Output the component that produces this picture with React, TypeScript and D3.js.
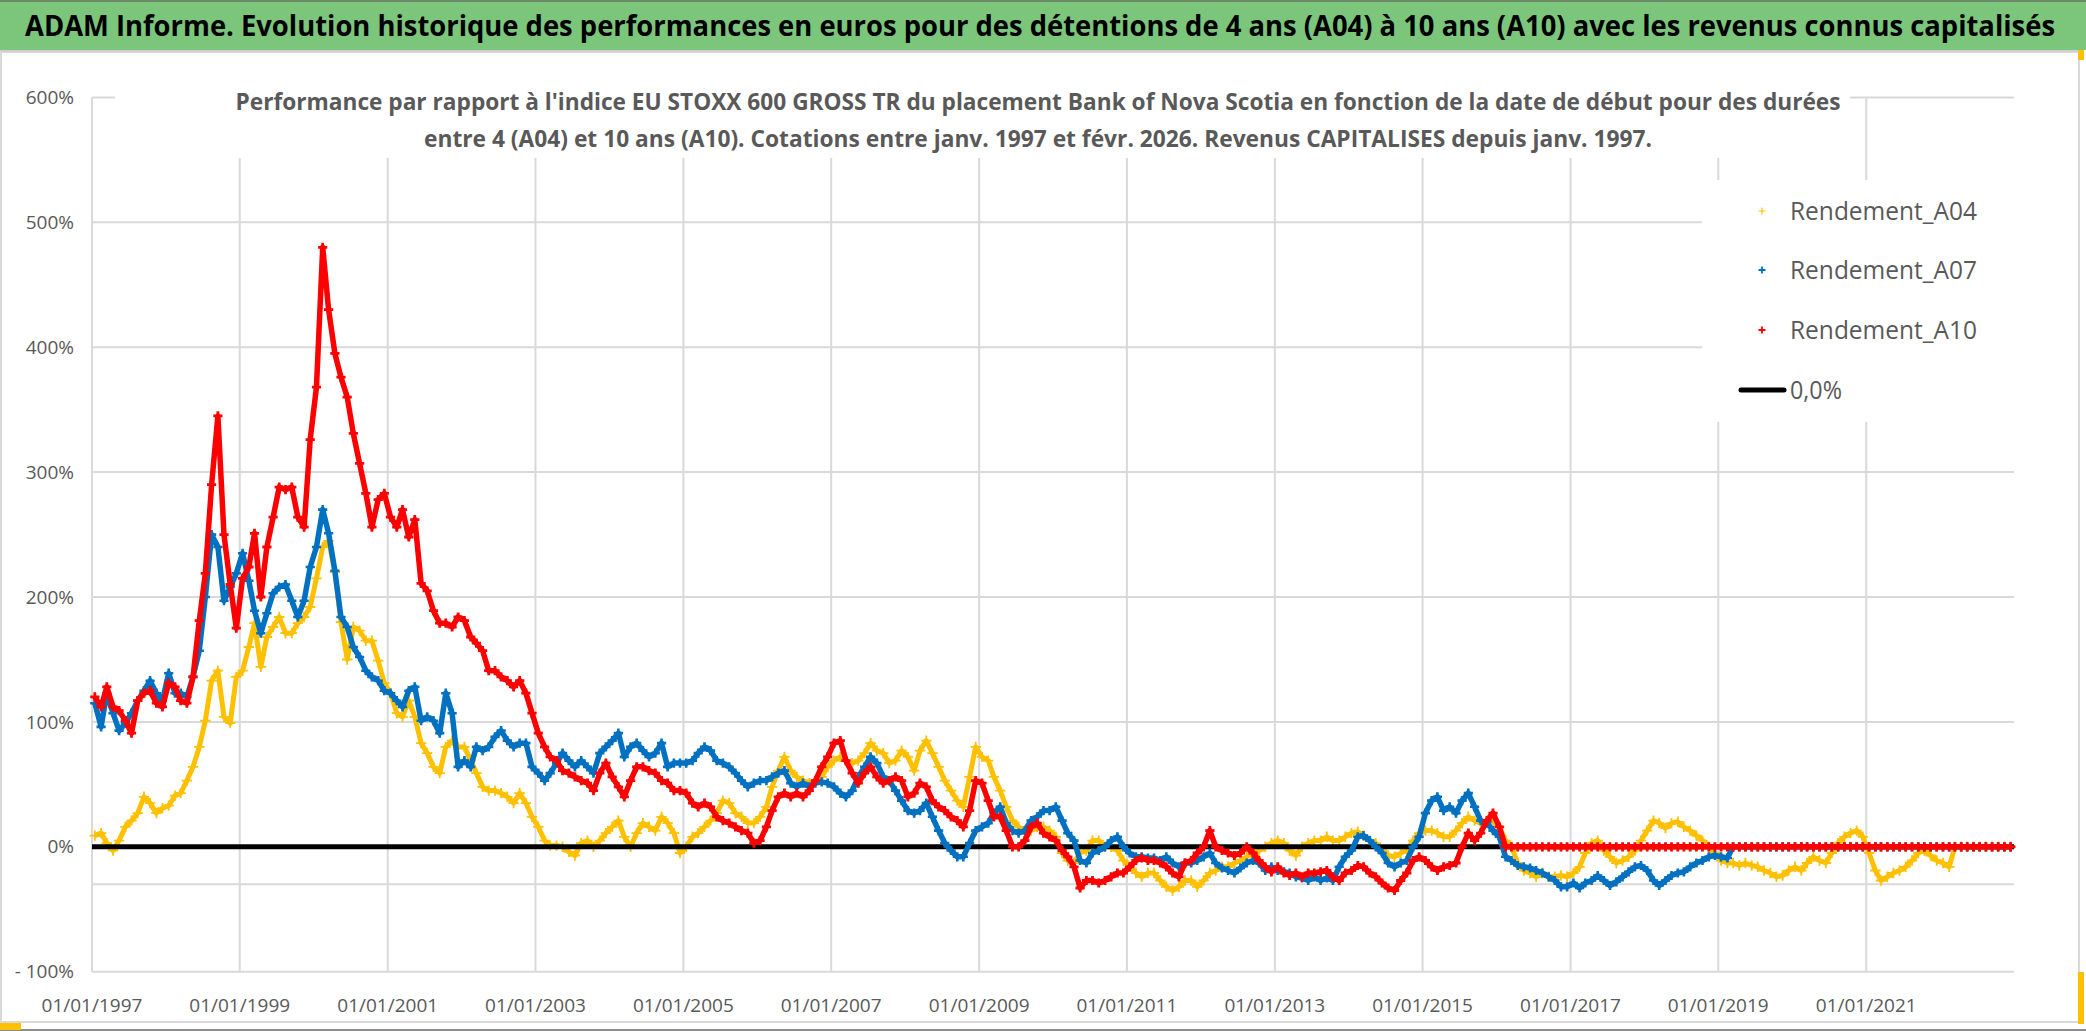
import React from "react";
import * as d3 from "d3";

// ---------- DATA (monthly start dates from January 1997, values in %) ----------
const START_YEAR = 1997;

const A04: number[] = [
  // 1997
  9, 11, 3, -3, 5, 16, 21, 27, 40, 35, 27, 31,
  // 1998
  33, 41, 43, 53, 64, 80, 101, 133, 141, 104, 99, 136,
  // 1999
  141, 160, 179, 144, 168, 176, 184, 171, 171, 179, 184, 192,
  // 2000
  215, 240, 245, 220, 180, 150, 176, 173, 165, 165, 149, 131,
  // 2001
  123, 107, 104, 117, 104, 83, 75, 64, 59, 80, 85, 80,
  // 2002
  80, 69, 59, 48, 45, 45, 43, 40, 35, 43, 35, 24,
  // 2003
  16, 5, 1, 1, 0, -4, -7, 3, 5, 0, 5, 11,
  // 2004
  16, 21, 8, 0, 11, 19, 16, 13, 24, 19, 11, -5,
  // 2005
  0, 8, 11, 16, 21, 27, 37, 35, 27, 24, 19, 19,
  // 2006
  24, 32, 48, 61, 72, 61, 56, 53, 51, 53, 56, 64,
  // 2007
  69, 72, 69, 67, 69, 75, 83, 77, 75, 67, 69, 77,
  // 2008
  72, 61, 77, 85, 75, 64, 53, 45, 37, 32, 56, 80,
  // 2009
  72, 69, 56, 45, 32, 21, 16, 11, 13, 16, 16, 13,
  // 2010
  8, -5, -11, -13, -5, -3, 5, 5, 0, 0, -3, -11,
  // 2011
  -16, -21, -24, -21, -21, -27, -32, -35, -32, -27, -27, -32,
  // 2012
  -27, -21, -19, -16, -16, -13, -11, -8, -5, -3, 0, 3,
  // 2013
  5, 3, -3, -7, 0, 3, 5, 5, 8, 5, 5, 8,
  // 2014
  11, 12, 9, 5, 3, -3, -7, -8, -5, -3, 5, 11,
  // 2015
  13, 13, 11, 8, 8, 13, 19, 24, 21, 19, 21, 21,
  // 2016
  16, 5, 0, -13, -19, -21, -24, -21, -24, -24, -23, -24,
  // 2017
  -21, -16, -5, 3, 5, -3, -8, -13, -11, -8, -3, 5,
  // 2018
  13, 21, 19, 15, 19, 20, 16, 13, 9, 5, 0, -5,
  // 2019
  -11, -13, -13, -15, -13, -15, -16, -19, -21, -24, -23, -19,
  // 2020
  -16, -19, -13, -8, -11, -13, -5, 3, 8, 11, 13, 8,
  // 2021
  -5, -19, -27, -24, -21, -19, -16, -11, -5, -3, -7, -11,
  // 2022
  -13, -16, 0, 0, 0, 0, 0, 0, 0, 0, 0, 0,
];

const A07: number[] = [
  // 1997
  115, 96, 123, 107, 93, 99, 107, 117, 125, 133, 123, 117,
  // 1998
  139, 123, 123, 120, 136, 157, 200, 250, 240, 197, 208, 219,
  // 1999
  235, 213, 189, 171, 187, 203, 208, 210, 197, 184, 197, 224,
  // 2000
  240, 270, 251, 221, 184, 176, 160, 152, 141, 136, 133, 125,
  // 2001
  123, 117, 112, 125, 128, 101, 104, 101, 91, 123, 107, 64,
  // 2002
  69, 64, 80, 77, 80, 88, 93, 85, 80, 83, 83, 64,
  // 2003
  59, 53, 59, 67, 75, 69, 64, 69, 64, 59, 75, 80,
  // 2004
  85, 91, 72, 80, 83, 77, 72, 75, 83, 64, 67, 67,
  // 2005
  67, 69, 75, 80, 77, 69, 67, 64, 59, 53, 48, 51,
  // 2006
  53, 53, 56, 59, 61, 51, 48, 51, 48, 51, 52, 51,
  // 2007
  48, 43, 40, 45, 56, 64, 72, 67, 56, 53, 45, 37,
  // 2008
  29, 27, 29, 35, 24, 13, 3, -3, -8, -8, 3, 13,
  // 2009
  16, 19, 27, 32, 19, 13, 11, 13, 21, 24, 29, 29,
  // 2010
  32, 21, 11, 5, -11, -13, -5, -3, 0, 5, 8, 0,
  // 2011
  -5, -8, -8, -9, -9, -11, -8, -13, -16, -13, -13, -11,
  // 2012
  -8, -5, -13, -17, -19, -21, -17, -13, -11, -13, -19, -16,
  // 2013
  -19, -20, -21, -24, -25, -27, -24, -27, -25, -27, -16, -8,
  // 2014
  -3, 8, 9, 5, 0, -5, -13, -16, -13, -11, 0, 8,
  // 2015
  27, 37, 40, 29, 32, 27, 37, 43, 32, 21, 19, 13,
  // 2016
  8, -8, -11, -15, -16, -17, -19, -21, -24, -27, -32, -32,
  // 2017
  -29, -33, -29, -27, -23, -27, -31, -28, -24, -20, -16, -15,
  // 2018
  -19, -27, -31, -27, -23, -21, -20, -16, -13, -11, -8, -7,
  // 2019
  -8, -9, 0, 0, 0, 0, 0, 0, 0, 0, 0, 0,
  // 2020
  0, 0, 0, 0, 0, 0, 0, 0, 0, 0, 0, 0,
  // 2021
  0, 0, 0, 0, 0, 0, 0, 0, 0, 0, 0, 0,
  // 2022
  0, 0, 0, 0, 0, 0, 0, 0, 0, 0, 0, 0,
];

const A10: number[] = [
  // 1997
  120, 112, 128, 112, 109, 101, 91, 117, 123, 125, 115, 112,
  // 1998
  131, 128, 117, 115, 136, 181, 219, 290, 345, 250, 210, 175,
  // 1999
  215, 224, 251, 200, 240, 264, 288, 286, 288, 264, 256, 326,
  // 2000
  368, 480, 430, 395, 376, 360, 331, 307, 283, 256, 278, 283,
  // 2001
  264, 256, 270, 248, 262, 211, 205, 189, 179, 179, 176, 184,
  // 2002
  181, 168, 163, 157, 141, 141, 136, 133, 128, 133, 123, 107,
  // 2003
  91, 80, 72, 69, 61, 59, 56, 53, 51, 45, 59, 67,
  // 2004
  56, 48, 40, 53, 64, 64, 61, 59, 53, 51, 45, 45,
  // 2005
  43, 35, 32, 35, 32, 24, 21, 19, 16, 13, 11, 3,
  // 2006
  5, 16, 29, 40, 43, 40, 43, 40, 45, 53, 64, 72,
  // 2007
  83, 85, 69, 59, 51, 59, 64, 56, 51, 53, 56, 53,
  // 2008
  40, 43, 51, 48, 37, 32, 29, 24, 21, 16, 29, 53,
  // 2009
  51, 37, 24, 24, 13, 0, 0, 5, 16, 19, 11, 8,
  // 2010
  5, -3, -8, -16, -33, -27, -27, -29, -27, -24, -21, -21,
  // 2011
  -16, -11, -9, -11, -11, -13, -16, -21, -24, -13, -11, -5,
  // 2012
  0, 13, 0, -3, -5, -7, -5, 0, -5, -11, -16, -20,
  // 2013
  -16, -21, -23, -21, -24, -21, -21, -20, -19, -24, -27, -21,
  // 2014
  -19, -15, -16, -21, -24, -29, -33, -35, -27, -21, -11, -8,
  // 2015
  -11, -16, -19, -16, -15, -13, 0, 11, 5, 11, 21, 27,
  // 2016
  16, 0, 0, 0, 0, 0, 0, 0, 0, 0, 0, 0,
  // 2017
  0, 0, 0, 0, 0, 0, 0, 0, 0, 0, 0, 0,
  // 2018
  0, 0, 0, 0, 0, 0, 0, 0, 0, 0, 0, 0,
  // 2019
  0, 0, 0, 0, 0, 0, 0, 0, 0, 0, 0, 0,
  // 2020
  0, 0, 0, 0, 0, 0, 0, 0, 0, 0, 0, 0,
  // 2021
  0, 0, 0, 0, 0, 0, 0, 0, 0, 0, 0, 0,
  // 2022
  0, 0, 0, 0, 0, 0, 0, 0, 0, 0, 0, 0,
];

const ZERO_LINE: [string, number][] = [
  ["1997-01-01", 0],
  ["2023-01-01", 0],
];

const Y_TICKS = [-100, 0, 100, 200, 300, 400, 500, 600];
const Y_EXTRA_GRID = [-30];
const X_TICK_YEARS = [1997, 1999, 2001, 2003, 2005, 2007, 2009, 2011, 2013, 2015, 2017, 2019, 2021];
const X_DOMAIN = ["1997-01-01", "2023-01-01"];
const Y_DOMAIN = [-100, 600];

const TITLE =
  "ADAM Informe. Evolution historique des performances en euros pour des détentions de 4 ans (A04) à 10 ans (A10) avec les revenus connus capitalisés";
const SUBTITLE = [
  "Performance par rapport à l'indice EU STOXX 600 GROSS TR  du placement Bank of Nova Scotia en fonction de la date de début pour des durées",
  "entre 4 (A04) et 10 ans (A10). Cotations entre janv. 1997 et févr. 2026. Revenus CAPITALISES depuis janv. 1997.",
];
const LEGEND_LABELS = ["Rendement_A04", "Rendement_A07", "Rendement_A10", "0,0%"];

// ---------- LAYOUT ----------
const W = 2086;
const H = 1031;
const PLOT = { left: 92, right: 2014, top: 97.4, bottom: 971.7 };
const FONT = "'Open Sans', 'Noto Sans', sans-serif";
const GREY_TEXT = "#595959";
const GRID = "#d9d9d9";

const x = d3
  .scaleTime()
  .domain(X_DOMAIN.map((s) => new Date(s + "T00:00:00")))
  .range([PLOT.left, PLOT.right]);
const y = d3.scaleLinear().domain(Y_DOMAIN).range([PLOT.bottom, PLOT.top]);

type Pt = { date: Date; v: number };
const toPoints = (vals: number[]): Pt[] =>
  vals.map((v, i) => ({ date: new Date(START_YEAR, i, 15), v }));

const SERIES = [
  { key: "A04", values: A04, color: "#FFC000", lineW: 5, cross: 5.2, crossW: 1.8 },
  { key: "A07", values: A07, color: "#0070C0", lineW: 5.5, cross: 4.6, crossW: 2.6 },
  { key: "A10", values: A10, color: "#FF0000", lineW: 5.5, cross: 4.6, crossW: 2.8 },
];

const lineGen = d3
  .line<Pt>()
  .x((d) => x(d.date))
  .y((d) => y(d.v))
  .curve(d3.curveLinear);

function crossPath(pts: Pt[], s: number): string {
  return pts
    .map((d) => {
      const px = x(d.date);
      const py = y(d.v);
      return `M${(px - s).toFixed(1)},${py.toFixed(1)}h${2 * s}M${px.toFixed(1)},${(py - s).toFixed(1)}v${2 * s}`;
    })
    .join("");
}

function SeriesMarks({ s }: { s: (typeof SERIES)[number] }) {
  const pts = toPoints(s.values);
  return (
    <g>
      <path d={lineGen(pts) || ""} fill="none" stroke={s.color} strokeWidth={s.lineW} strokeLinejoin="round" />
      <path d={crossPath(pts, s.cross)} fill="none" stroke={s.color} strokeWidth={s.crossW} />
    </g>
  );
}

function yLabel(v: number): string {
  return v < 0 ? `- ${Math.abs(v)}%` : `${v}%`;
}

export default function App() {
  const zeroPts = ZERO_LINE.map(([d, v]) => ({ date: new Date(d + "T00:00:00"), v }));
  const legendY = [211, 270, 330, 390];

  return (
    <svg
      width={W}
      height={H}
      viewBox={`0 0 ${W} ${H}`}
      style={{ position: "absolute", left: 0, top: 0, background: "#ffffff" }}
    >
      {/* chart area */}
      <rect x={0} y={0} width={W} height={H} fill="#ffffff" />
      <rect x={1} y={52} width={2078} height={970} fill="#ffffff" stroke={GRID} strokeWidth={2} />
      <line x1={0} y1={1030} x2={W} y2={1030} stroke="#8c8c8c" strokeWidth={2} />

      {/* title band */}
      <rect x={0} y={0} width={W} height={50} fill="#7CC67C" />
      <line x1={0} y1={1} x2={W} y2={1} stroke="#6a8a6a" strokeWidth={2} />
      <line x1={0} y1={51} x2={2080} y2={51} stroke="#d0d0d0" strokeWidth={2} />
      <g transform="translate(1040,36) scale(1,1.18)">
        <text
          x={0}
          y={0}
          textAnchor="middle"
          fontFamily={FONT}
          fontWeight={700}
          fontSize={24.5}
          fill="#000000"
          textLength={2030}
          lengthAdjust="spacingAndGlyphs"
        >
          {TITLE}
        </text>
      </g>

      {/* gridlines */}
      {Y_TICKS.concat(Y_EXTRA_GRID).map((t) => (
        <line key={"gy" + t} x1={PLOT.left} x2={PLOT.right} y1={y(t)} y2={y(t)} stroke={GRID} strokeWidth={2} />
      ))}
      {X_TICK_YEARS.map((yr) => {
        const px = x(new Date(yr, 0, 1));
        return <line key={"gx" + yr} x1={px} x2={px} y1={y(600)} y2={y(-100)} stroke={GRID} strokeWidth={2} />;
      })}

      {/* subtitle with white box */}
      <rect x={115} y={78} width={1735} height={80} fill="#ffffff" />
      <text
        x={1038}
        y={110}
        textAnchor="middle"
        fontFamily={FONT}
        fontWeight={700}
        fontSize={24}
        fill={GREY_TEXT}
        textLength={1605}
        lengthAdjust="spacingAndGlyphs"
      >
        {SUBTITLE[0]}
      </text>
      <text
        x={1038}
        y={147}
        textAnchor="middle"
        fontFamily={FONT}
        fontWeight={700}
        fontSize={24}
        fill={GREY_TEXT}
        textLength={1228}
        lengthAdjust="spacingAndGlyphs"
      >
        {SUBTITLE[1]}
      </text>

      {/* axis labels */}
      {Y_TICKS.map((t) => (
        <text
          key={"ly" + t}
          x={74}
          y={y(t)}
          dy="0.35em"
          textAnchor="end"
          fontFamily={FONT}
          fontSize={19}
          fill={GREY_TEXT}
        >
          {yLabel(t)}
        </text>
      ))}
      {X_TICK_YEARS.map((yr) => (
        <text
          key={"lx" + yr}
          x={x(new Date(yr, 0, 1))}
          y={1012}
          textAnchor="middle"
          fontFamily={FONT}
          fontSize={19}
          fill={GREY_TEXT}
        >
          {`01/01/${yr}`}
        </text>
      ))}

      {/* series */}
      <SeriesMarks s={SERIES[0]} />
      <path d={lineGen(zeroPts) || ""} stroke="#000000" strokeWidth={5} fill="none" />
      <SeriesMarks s={SERIES[1]} />
      <SeriesMarks s={SERIES[2]} />

      {/* legend */}
      <rect x={1702} y={180} width={313} height={242} fill="#ffffff" />
      {SERIES.map((s, i) => (
        <g key={"lg" + s.key}>
          <path
            d={`M${1762 - 3.5},${legendY[i]}h7M1762,${legendY[i] - 3.5}v7`}
            stroke={s.color}
            strokeWidth={i === 0 ? 1.2 : 1.8}
          />
          <text
            x={1790}
            y={legendY[i]}
            dy="0.36em"
            fontFamily={FONT}
            fontSize={25}
            fill={GREY_TEXT}
            textLength={187}
            lengthAdjust="spacingAndGlyphs"
          >
            {LEGEND_LABELS[i]}
          </text>
        </g>
      ))}
      <line x1={1741} x2={1784} y1={legendY[3]} y2={legendY[3]} stroke="#000000" strokeWidth={5} strokeLinecap="round" />
      <text
        x={1790}
        y={legendY[3]}
        dy="0.36em"
        fontFamily={FONT}
        fontSize={25}
        fill={GREY_TEXT}
        textLength={52}
        lengthAdjust="spacingAndGlyphs"
      >
        {LEGEND_LABELS[3]}
      </text>

      {/* selection handles (Excel artefacts) */}
      <rect x={0} y={1023} width={21} height={7} fill="#FFC000" />
      <rect x={2078} y={50} width={6} height={10} fill="#FFC000" />
      <rect x={2078} y={972} width={6} height={52} fill="#FFC000" />
    </svg>
  );
}
